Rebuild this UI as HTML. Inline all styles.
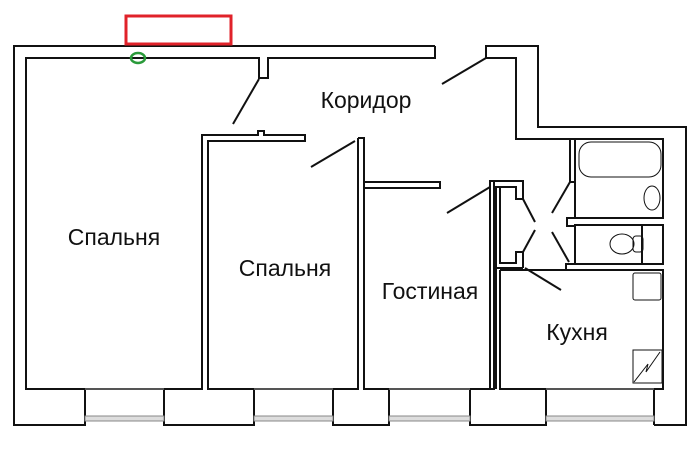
<!DOCTYPE html>
<html><head><meta charset="utf-8"><style>
html,body{margin:0;padding:0;background:#fff;}
svg{display:block;}
text{font-family:"Liberation Sans",sans-serif;font-size:23px;fill:#111;}
</style></head><body>
<svg width="700" height="452" viewBox="0 0 700 452" xmlns="http://www.w3.org/2000/svg">
<g fill="none" stroke="#111" stroke-width="2">
<polyline points="435,46 14,46 14,425 85,425"/>
<polyline points="435,46 435,58 268,58 268,78 259,78 259,58 26,58 26,389 202,389 202,135 258,135 258,131 264,131 264,135 305,135 305,141 208,141 208,389 358,389 358,138"/>
<polyline points="358,138 364,138 364,389 494,389 494,181"/>
<polyline points="364,182 440,182 440,188 364,188"/>
<polyline points="486,58 486,46 538,46 538,127 686,127 686,425 654,425"/>
<polyline points="486,58 516,58 516,139 575,139"/>
<polyline points="494,181 490,181 490,389"/>
<polyline points="490,181 523,181 523,199 516,199 516,187 496,187 496,389"/>
<polyline points="500,187 500,263 516,263 516,252 523,252 523,268"/>
<polyline points="496,268 523,268"/>
<polyline points="500,270 663,270 663,389 500,389 500,270"/>
<polyline points="570,182 570,139 575,139 575,182 570,182"/>
<rect x="575" y="139" width="88" height="79"/>
<polyline points="575,218 567,218 567,226 575,226"/>
<rect x="575" y="225" width="88" height="39"/>
<polyline points="575,264 566,264 566,270 575,270"/>
<rect x="642" y="225" width="21" height="39"/>
<polyline points="85,389 85,425 14,425"/>
<polyline points="164,389 164,425 254,425 254,389"/>
<polyline points="333,389 333,425 389,425 389,389"/>
<polyline points="470,389 470,425 546,425 546,389"/>
<polyline points="654,389 654,425"/>
<line x1="259" y1="79" x2="233" y2="124"/>
<line x1="311" y1="167" x2="355" y2="141"/>
<line x1="486" y1="58" x2="442" y2="84"/>
<line x1="447" y1="213" x2="490" y2="187"/>
<line x1="570" y1="182" x2="552" y2="213"/>
<line x1="552" y1="232" x2="569" y2="262"/>
<line x1="523" y1="199" x2="535" y2="222"/>
<line x1="535" y1="230" x2="523" y2="252"/>
<line x1="525" y1="268" x2="561" y2="290"/>
</g>
<g fill="none" stroke="#111" stroke-width="1">
<rect x="579" y="142" width="82" height="35" rx="12"/>
<ellipse cx="652" cy="198" rx="8" ry="12"/>
<ellipse cx="622" cy="244" rx="12" ry="10"/>
<rect x="633" y="236" width="10" height="16" rx="3"/>
<rect x="633" y="273" width="28" height="27" rx="2"/>
<rect x="633" y="350" width="29" height="33"/>
<polyline points="660,352 646,372 648,364 634,382"/>
</g>
<g stroke="#888" stroke-width="1" fill="#ddd">
<rect x="85" y="416" width="79" height="5"/>
<rect x="254" y="416" width="79" height="5"/>
<rect x="389" y="416" width="81" height="5"/>
<rect x="546" y="416" width="108" height="5"/>
</g>
<g stroke="#999" stroke-width="1">
<line x1="85" y1="389" x2="164" y2="389"/>
<line x1="254" y1="389" x2="333" y2="389"/>
<line x1="389" y1="389" x2="470" y2="389"/>
<line x1="546" y1="389" x2="654" y2="389"/>
</g>
<rect x="126" y="16" width="105" height="28" fill="none" stroke="#e0222a" stroke-width="3"/>
<ellipse cx="138" cy="58" rx="7" ry="5" fill="none" stroke="#2a9a3a" stroke-width="2.5"/>
<text x="366" y="108" text-anchor="middle">Коридор</text>
<text x="114" y="245" text-anchor="middle">Спальня</text>
<text x="285" y="276" text-anchor="middle">Спальня</text>
<text x="430" y="299" text-anchor="middle">Гостиная</text>
<text x="577" y="340" text-anchor="middle">Кухня</text>
</svg>
</body></html>
